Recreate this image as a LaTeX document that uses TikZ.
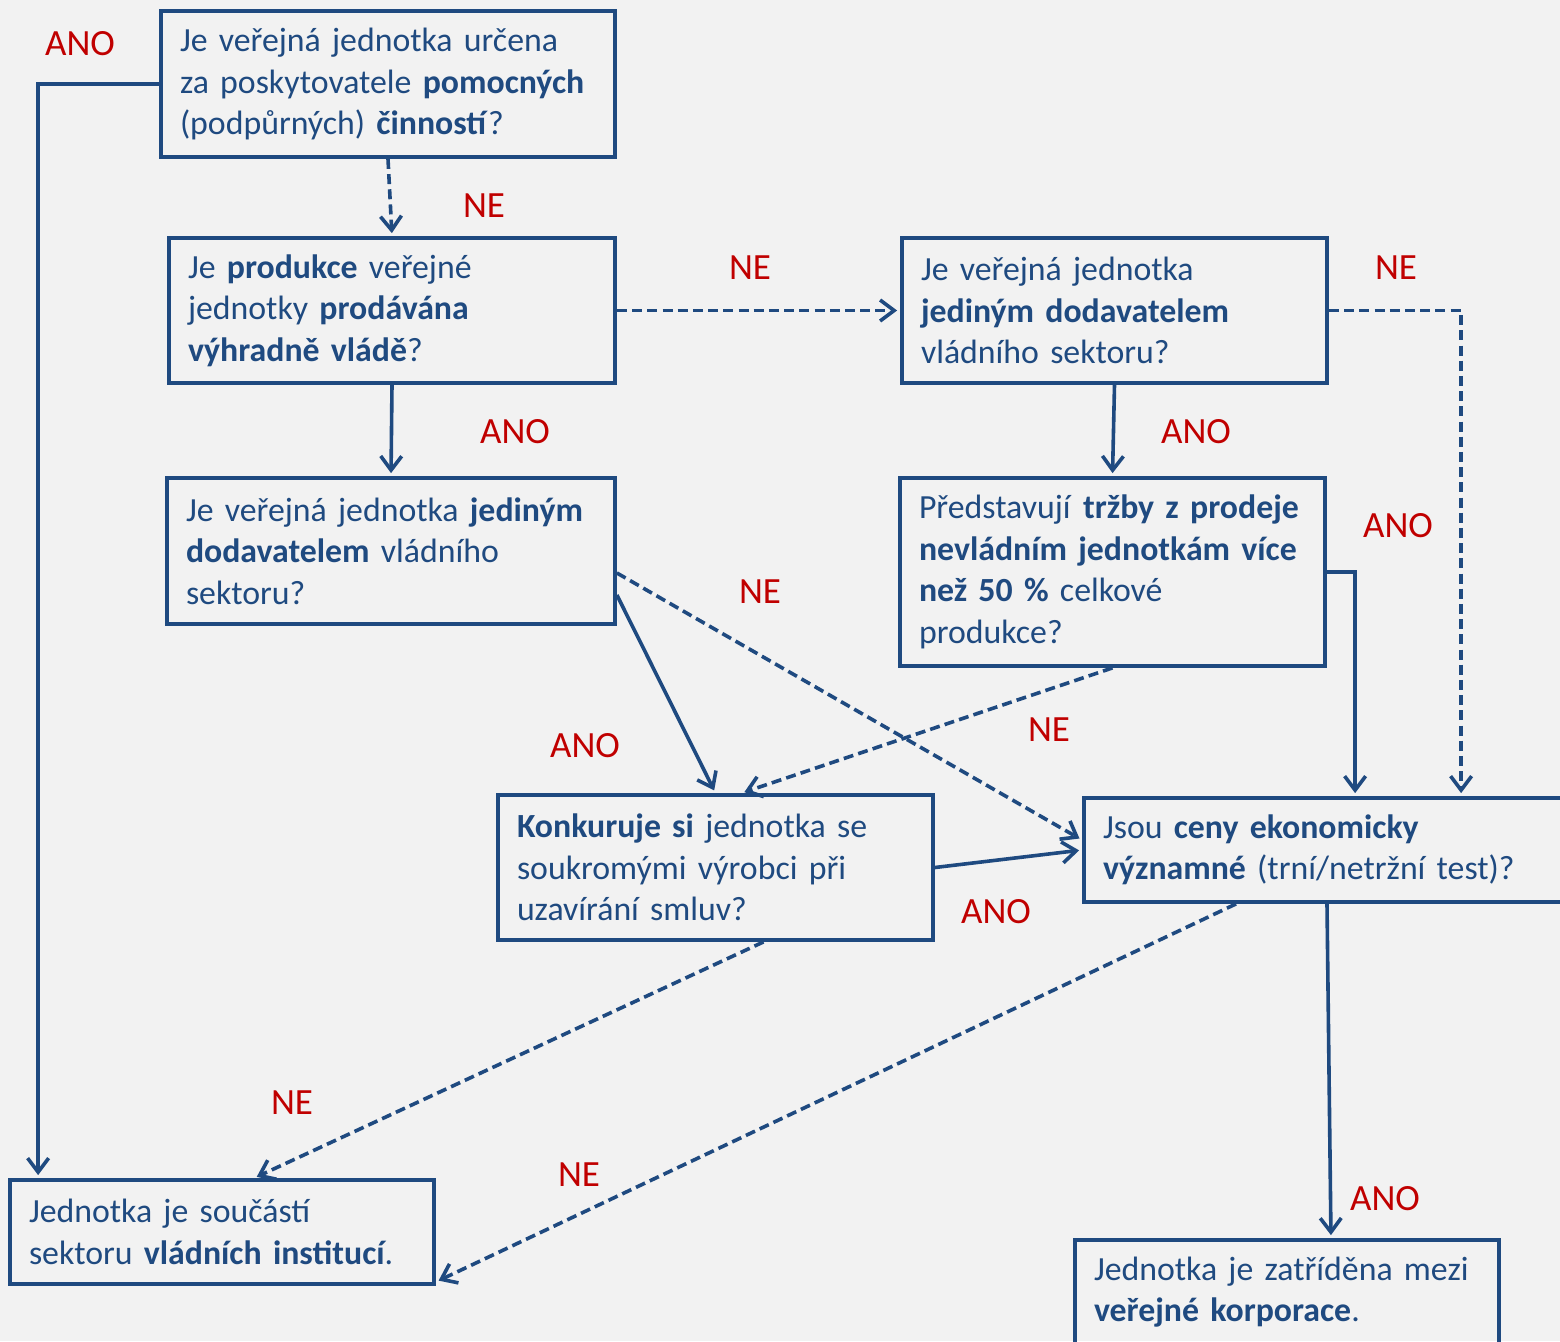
\documentclass[tikz,border=0pt]{standalone}
\usepackage{fontspec}
\setmainfont{Carlito}
\usetikzlibrary{arrows.meta}
\definecolor{bl}{HTML}{1F4A80}
\definecolor{rd}{HTML}{C00000}
\definecolor{bg}{HTML}{F2F2F2}
\begin{document}
\begin{tikzpicture}[x=0.5pt,y=-0.5pt,
  box/.style={draw=bl, line width=1.9pt, rectangle, inner xsep=9.5pt, inner ysep=0pt, align=left,
    text=bl, font=\fontsize{16.9}{20.75}\selectfont},
  lbl/.style={text=rd, font=\fontsize{18.5}{20}\selectfont, inner sep=0pt},
  conn/.style={draw=bl, line width=1.8pt, -{Straight Barb[length=7pt,width=10.5pt,line width=1.8pt]}, shorten >=1.5pt},
  dsh/.style={conn, dash pattern=on 5pt off 2.6pt}]
\fill[bg] (0,0) rectangle (1560,1341);
\useasboundingbox (0,0) rectangle (1560,1341);

\node[box, minimum width=227pt, minimum height=73pt, text width=208pt] (b1) at (388,84)
  {Je veřejná jednotka určena\\ za poskytovatele \textbf{pomocných}\\ (podpůrných) \textbf{činností}?};
\node[box, minimum width=223pt, minimum height=72.5pt, text width=204pt] (b2) at (392,310.5)
  {Je \textbf{produkce} veřejné\\ jednotky \textbf{prodávána}\\ \textbf{výhradně vládě}?};
\node[box, minimum width=224pt, minimum height=73pt, text width=205pt] (b3) at (391,551)
  {Je veřejná jednotka \textbf{jediným}\\ \textbf{dodavatelem} vládního\\ sektoru?};
\node[box, minimum width=212.5pt, minimum height=72.5pt, text width=193.5pt] (b4) at (1114.5,310.5)
  {Je veřejná jednotka\\ \textbf{jediným dodavatelem}\\ vládního sektoru?};
\node[box, minimum width=212.5pt, minimum height=94pt, text width=193.5pt] (b5) at (1112.5,572)
  {Představují \textbf{tržby z prodeje}\\ \textbf{nevládním jednotkám více}\\ \textbf{než 50 \%} celkové\\ produkce?};
\node[box, minimum width=217.5pt, minimum height=72.5pt, text width=198.5pt] (b6) at (715.5,867.5)
  {\textbf{Konkuruje si} jednotka se\\ soukromými výrobci při\\ uzavírání smluv?};
\node[box, minimum width=239pt, minimum height=52pt, text width=220pt] (b7) at (1323,850)
  {Jsou \textbf{ceny ekonomicky}\\ \textbf{významné} (trní/netržní test)?};
\node[box, minimum width=212pt, minimum height=52pt, text width=193pt] (b8) at (222,1232)
  {Jednotka je součástí\\ sektoru \textbf{vládních institucí}.};
\node[box, minimum width=212pt, minimum height=52pt, text width=193pt] (b9) at (1287,1292)
  {Jednotka je zatříděna mezi\\ \textbf{veřejné korporace}.};

% connectors
\draw[conn] (b1.west) -| ([xshift=15pt]b8.north west);
\draw[dsh] (b1.south) -- (b2.north);
\draw[dsh] (b2.east) -- (b4.west);
\draw[conn] (b2.south) -- (b3.north);
\draw[dsh] (b4.east) -| ([xshift=189.5pt]b7.north west);
\draw[conn] (b4.south) -- (b5.north);
\draw[conn] (b5.east) -| ([xshift=136.5pt]b7.north west);
\draw[dsh] ([yshift=-11pt]b3.east) -- ([yshift=5pt]b7.west);
\draw[conn] ([yshift=-22pt]b3.east) -- (b6.north);
\draw[dsh] (b5.south) -- ([xshift=13pt]b6.north);
\draw[conn] (b6.east) -- (b7.west);
\draw[dsh] ([xshift=24pt]b6.south) -- ([xshift=16pt]b8.north);
\draw[dsh] ([xshift=-43.5pt]b7.south) -- ([yshift=2pt]b8.south east);
\draw[conn] ([xshift=2pt]b7.south) -- ([xshift=22pt]b9.north);

% labels
\node[lbl] (l1) at (80,44) {ANO};
\node[lbl] (l2) at (484,206) {NE};
\node[lbl] (l3) at (750,268) {NE};
\node[lbl] (l4) at (515,432) {ANO};
\node[lbl] (l5) at (1396,268) {NE};
\node[lbl] (l6) at (1196,432) {ANO};
\node[lbl] (l7) at (1398,526) {ANO};
\node[lbl] (l8) at (760,592) {NE};
\node[lbl] (l9) at (585,746) {ANO};
\node[lbl] (l10) at (1049,730) {NE};
\node[lbl] (l11) at (996,912) {ANO};
\node[lbl] (l12) at (292,1103) {NE};
\node[lbl] (l13) at (579,1175) {NE};
\node[lbl] (l14) at (1385,1199) {ANO};
\end{tikzpicture}
\end{document}
